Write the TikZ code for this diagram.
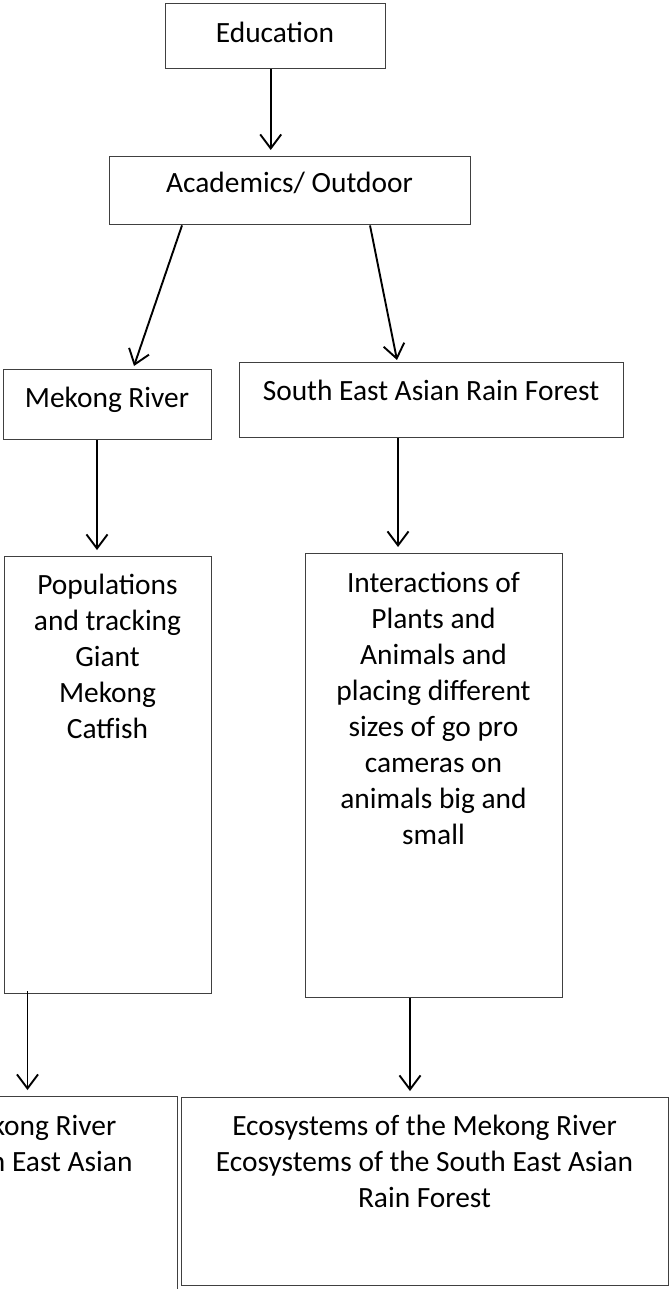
\documentclass[tikz,border=0pt]{standalone}
\usepackage{fontspec}
\setmainfont{Carlito}
\usetikzlibrary{arrows.meta,calc}
\begin{document}
\begin{tikzpicture}[x=1pt,y=-1pt,
  box/.style={draw=black!75, line width=1.4pt, inner sep=0pt, anchor=north west},
  txt/.style={inner sep=0pt, anchor=base, align=center, font=\fontsize{29.4}{36}\selectfont},
  arr/.style={draw=black, line width=1.9pt, -{Straight Barb[length=14pt,width=21pt]}},
  gap/.style={shorten >=6pt}]
\useasboundingbox (0,0) rectangle (670,1289);
\clip (0,0) rectangle (670,1289);
\fill[white] (0,0) rectangle (670,1289);

% boxes
\node[box, minimum width=220pt, minimum height=65pt]  (edu)   at (165,3)    {};
\node[box, minimum width=361pt, minimum height=68pt]  (acad)  at (109,156)  {};
\node[box, minimum width=208pt, minimum height=70pt]  (mek)   at (3,369)    {};
\node[box, minimum width=384pt, minimum height=75pt]  (sea)   at (239,362)  {};
\node[box, minimum width=207pt, minimum height=437pt] (pop)   at (4,556)    {};
\node[box, minimum width=257pt, minimum height=444pt] (inter) at (305,553)  {};
\node[box, minimum width=487pt, minimum height=230pt] (ecoL)  at (-310,1096) {};
\node[box, minimum width=487pt, minimum height=188pt] (ecoR)  at (181,1097) {};

% texts (multi-line nodes sit on the baseline of their last line)
\node[txt] (eduT)   at (275,43)    {Education};
\node[txt] (acadT)  at (289.5,193) {Academics/ Outdoor};
\node[txt] (mekT)   at (107,407)   {Mekong River};
\node[txt] (seaT)   at (431,400)   {South East Asian Rain Forest};
\node[txt] (popT)   at (107.5,738) {Populations\\and tracking\\Giant\\Mekong\\Catfish};
\node[txt] (interT) at (433.5,844) {Interactions of\\Plants and\\Animals and\\placing different\\sizes of go pro\\cameras on\\animals big and\\small};
\node[txt] (ecoLT)  at (-76,1207)  {Ecosystems of the Mekong River\\Ecosystems of the South East Asian\\Rain Forest};
\node[txt] (ecoRT)  at (424.5,1207) {Ecosystems of the Mekong River\\Ecosystems of the South East Asian\\Rain Forest};

% connectors
\draw[arr, gap] ([xshift=-5pt]edu.south) coordinate (e1) -- (e1 |- acad.north);
\draw[arr] ($(acad.south west)+(73,0)$) -- ($(mek.north west)+(131,-3)$);
\draw[arr] ($(acad.south west)+(261,0)$) -- ($(sea.north west)+(158,-2)$);
\draw[arr, gap] ($(mek.south west)+(94,0)$) coordinate (m1) -- (m1 |- pop.north);
\draw[arr, gap] ($(sea.south west)+(159,0)$) coordinate (s1) -- (s1 |- inter.north);
\draw[arr, gap] ($(pop.south west)+(23.5,-3)$) coordinate (p1) -- (p1 |- ecoL.north);
\draw[arr, gap] ($(inter.south west)+(105,0)$) coordinate (i1) -- (i1 |- ecoR.north);
\end{tikzpicture}
\end{document}
